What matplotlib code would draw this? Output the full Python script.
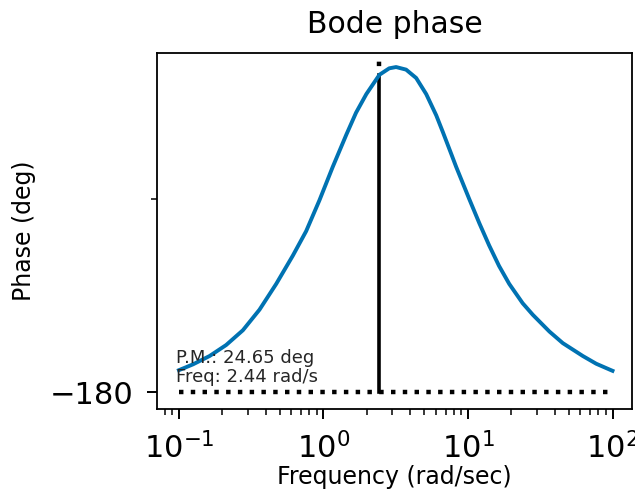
import numpy as np
import matplotlib
matplotlib.use('Agg')
import matplotlib.pyplot as plt
from matplotlib.ticker import MultipleLocator, NullFormatter

# phase curve (rad/s, deg)
freq = [0.1, 0.125, 0.163, 0.212, 0.277, 0.361, 0.471, 0.614, 0.759, 0.938,
        1.16, 1.44, 1.68, 1.98, 2.44, 2.85, 3.18, 3.73, 4.38, 5.14,
        6.03, 6.70, 7.66, 8.28, 10.2, 12.0, 14.0, 16.4, 19.3, 23.9,
        28.1, 36.6, 45.3, 62.3, 77.1, 95.3, 100.0]
phase = [-178.3, -177.85, -177.2, -176.35, -175.2, -173.6, -171.6, -169.4,
         -167.5, -165.1, -162.5, -160.0, -158.3, -156.85, -155.35, -154.85,
         -154.75, -154.95, -155.6, -156.85, -158.5, -159.8, -161.5, -162.5,
         -165.0, -166.9, -168.6, -170.2, -171.6, -173.1, -174.0, -175.3,
         -176.2, -177.2, -177.8, -178.25, -178.35]

# phase margin
wc = 2.44
pm = 24.65
ref_phase = -180.0
freq_range = [0.1, 100.0]


def main():
    BIGFONT = 21.5
    TICKFONT = 22
    MIDFONT = 17
    SMFONT = 13

    fig = plt.figure(figsize=(6.35, 4.9), dpi=100)
    ax = fig.add_axes([0.2472, 0.1663, 0.9953 - 0.2472, 0.8918 - 0.1663])

    ax.semilogx(freq, phase, color='#0072b2', lw=2.8, zorder=3)
    # -180 reference line
    ax.plot(freq_range, [ref_phase, ref_phase], color='k', ls=':', lw=3.2)
    # margin markers
    ax.plot([wc, wc], [ref_phase, ref_phase + pm], color='k', lw=2.6)
    ax.plot([wc, wc], [ref_phase + pm, 1e5], color='k',
            ls=(1.0, (1, 2.0)), lw=3.2)

    ax.set_xlim(10 ** -1.152, 10 ** 2.135)
    ax.set_ylim(-181.28, -153.66)

    ax.yaxis.set_major_locator(MultipleLocator(45))
    ax.yaxis.set_minor_locator(MultipleLocator(15))
    ax.yaxis.set_minor_formatter(NullFormatter())

    ax.text(0.04, 0.128, 'P.M.: %.2f deg' % pm, transform=ax.transAxes,
            fontsize=SMFONT, color='#262626', va='baseline')
    ax.text(0.04, 0.0754, 'Freq: %.2f rad/s' % wc, transform=ax.transAxes,
            fontsize=SMFONT, color='#262626', va='baseline')

    ax.set_title('Bode phase', fontsize=BIGFONT, pad=14.4)
    ax.set_xlabel('Frequency (rad/sec)', fontsize=MIDFONT)
    ax.set_ylabel('Phase (deg)', fontsize=MIDFONT)
    ax.xaxis.set_label_coords(0.5, -0.158)
    ax.yaxis.set_label_coords(-0.255, 0.5)

    ax.tick_params(which='major', labelsize=TICKFONT, length=7, width=1.4, pad=10)
    ax.tick_params(which='minor', length=4, width=1.1)
    for sp in ax.spines.values():
        sp.set_linewidth(1.3)

    fig.savefig('out.png', dpi=100)


if __name__ == "__main__":
    main()
